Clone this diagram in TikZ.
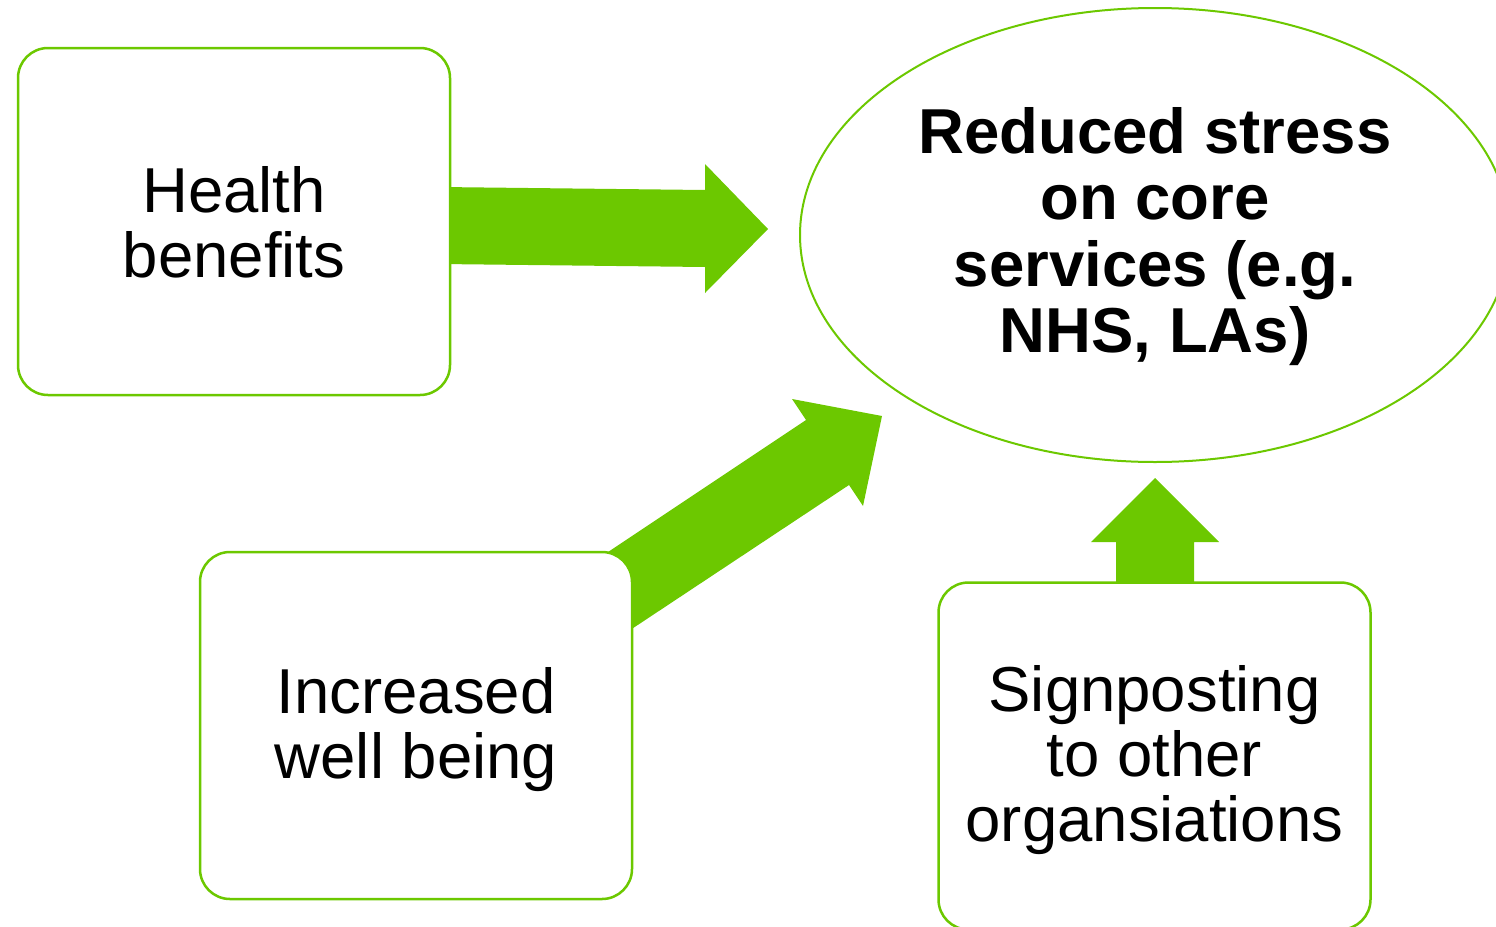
\documentclass[tikz,border=0pt]{standalone}
\usepackage{fontspec}
\setmainfont{Liberation Sans}
\usetikzlibrary{shapes.geometric,backgrounds}
\definecolor{lgreen}{RGB}{108,200,0}
\begin{document}
\begin{tikzpicture}[x=1pt,y=-1pt,
  box/.style={draw=lgreen, line width=2.5pt, fill=white, rounded corners=30pt,
    minimum width=432pt, minimum height=347pt, inner sep=0pt, align=center,
    text depth=6pt, font=\fontsize{63.5}{65}\selectfont},
  goalshape/.style={ellipse, draw=lgreen, line width=2pt, fill=white,
    minimum width=710pt, minimum height=454pt, inner sep=0pt, align=center,
    text depth=10pt, font=\bfseries\fontsize{63.5}{66.5}\selectfont},
  blockarrow/.style={fill=lgreen, draw=none}]
\useasboundingbox (0,0) rectangle (1496,926);
\clip (0,0) rectangle (1496,926);
\node[box, text depth=0pt] (health) at (234,221.5) {Health\\benefits};
\node[box] (well) at (416,725.5) {Increased\\well being};
\node[box] (sign) at (1154.5,756) {Signposting\\to other\\organsiations};
\node[goalshape] (goal) at (1155,235) {Reduced stress\\on core\\services (e.g.\\NHS, LAs)};
\begin{scope}[on background layer]
  \fill[blockarrow] (440,187) -- (705,190) -- (705,164) -- (768,229)
    -- (705,293) -- (705,267) -- (440,264) -- cycle;
  \fill[blockarrow] (560,584) -- (806,420) -- (792,399) -- (882,416)
    -- (863,506) -- (849,485) -- (600,650) -- cycle;
  \fill[blockarrow] (1116,600) -- (1116,542) -- (1091,542) -- (1155,478)
    -- (1219,542) -- (1194,542) -- (1194,600) -- cycle;
\end{scope}
\end{tikzpicture}
\end{document}
